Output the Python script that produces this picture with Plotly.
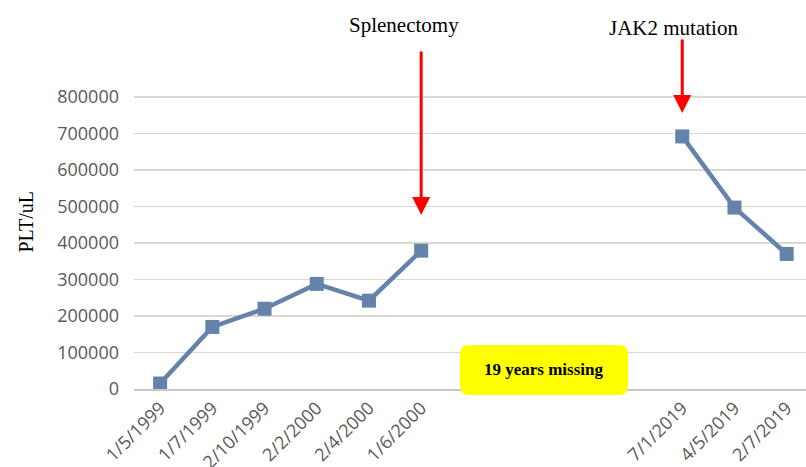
import plotly.graph_objects as go

categories = ["1/5/1999", "1/7/1999", "2/10/1999", "2/2/2000", "2/4/2000", "1/6/2000",
              "", "", "", "",
              "7/1/2019", "4/5/2019", "2/7/2019"]
plt_values = [15000, 170000, 220000, 288000, 242000, 379000,
              None, None, None, None,
              692000, 497000, 370000]
y_ticks = [0, 100000, 200000, 300000, 400000, 500000, 600000, 700000, 800000]

x_idx = list(range(len(categories)))

W, H = 806, 467
L, R, T, B = 134, 0, 86, 78
plot_w = W - L - R
plot_h = H - T - B
px_per_unit = 292 / 800000
ymax = plot_h / px_per_unit


def px(xp):
    return (xp - L) / plot_w


def py(yp):
    return (H - B - yp) / plot_h


fig = go.Figure()
fig.add_trace(go.Scatter(
    x=x_idx, y=plt_values, mode="lines+markers",
    connectgaps=False,
    line=dict(color="#6583aa", width=4.5),
    marker=dict(symbol="square", size=14, color="#6583aa"),
    showlegend=False, hoverinfo="skip"))

tick_font = dict(family="Open Sans", size=18, color="#595959")

fig.update_layout(
    width=W, height=H,
    margin=dict(l=L, r=R, t=T, b=B),
    paper_bgcolor="white", plot_bgcolor="white",
    xaxis=dict(range=[-0.5, 12.37], tickmode="array", tickvals=x_idx, ticktext=categories,
               tickangle=-45, tickfont=tick_font, showgrid=False, zeroline=False,
               showline=True, linecolor="#c8c8c8", linewidth=1.5, ticks="",
               automargin=False),
    yaxis=dict(range=[0, ymax], tickmode="array", tickvals=y_ticks,
               ticktext=[str(v) for v in y_ticks], tickfont=tick_font,
               showgrid=True, gridcolor="#dad9d0", gridwidth=1.5, zeroline=False,
               showline=False, ticks="", ticklabelstandoff=14, automargin=False),
)

serif = "Liberation Serif"
fig.add_annotation(text="PLT/uL", xref="paper", yref="paper",
                   x=px(25), y=py(221.5), xanchor="center", yanchor="middle",
                   textangle=-90, showarrow=False,
                   font=dict(family=serif, size=20, color="black"))
fig.add_annotation(text="Splenectomy", xref="paper", yref="paper",
                   x=px(404), y=py(25), xanchor="center", yanchor="middle",
                   showarrow=False, font=dict(family=serif, size=21, color="black"))
fig.add_annotation(text="JAK2 mutation", xref="paper", yref="paper",
                   x=px(673), y=py(28), xanchor="center", yanchor="middle",
                   showarrow=False, font=dict(family=serif, size=21, color="black"))

# arrows
fig.add_annotation(text="", x=5, y=(H - B - 215) / px_per_unit, xref="x", yref="y",
                   showarrow=True, ax=0, ay=-165, arrowcolor="#ff0000",
                   arrowwidth=3, arrowhead=2, arrowsize=1.2, standoff=0)
fig.add_annotation(text="", x=10, y=(H - B - 113) / px_per_unit, xref="x", yref="y",
                   showarrow=True, ax=0, ay=-75, arrowcolor="#ff0000",
                   arrowwidth=3, arrowhead=2, arrowsize=1.2, standoff=0)

# rounded yellow box
x0, x1, y0, y1, r = 460, 628, 345, 395, 9
path = (f"M {px(x0 + r)},{py(y0)} L {px(x1 - r)},{py(y0)} "
        f"Q {px(x1)},{py(y0)} {px(x1)},{py(y0 + r)} "
        f"L {px(x1)},{py(y1 - r)} Q {px(x1)},{py(y1)} {px(x1 - r)},{py(y1)} "
        f"L {px(x0 + r)},{py(y1)} Q {px(x0)},{py(y1)} {px(x0)},{py(y1 - r)} "
        f"L {px(x0)},{py(y0 + r)} Q {px(x0)},{py(y0)} {px(x0 + r)},{py(y0)} Z")
fig.add_shape(type="path", path=path, xref="paper", yref="paper",
              fillcolor="#ffff00", line=dict(width=0), layer="above")
fig.add_annotation(text="<b>19 years missing</b>", xref="paper", yref="paper",
                   x=px(544), y=py(369), xanchor="center", yanchor="middle",
                   showarrow=False,
                   font=dict(family=serif, size=17, color="black"))

fig.write_html("out.html", config={"displayModeBar": False, "staticPlot": True},
               post_script="document.body.style.margin='0';document.body.style.overflow='hidden';")
